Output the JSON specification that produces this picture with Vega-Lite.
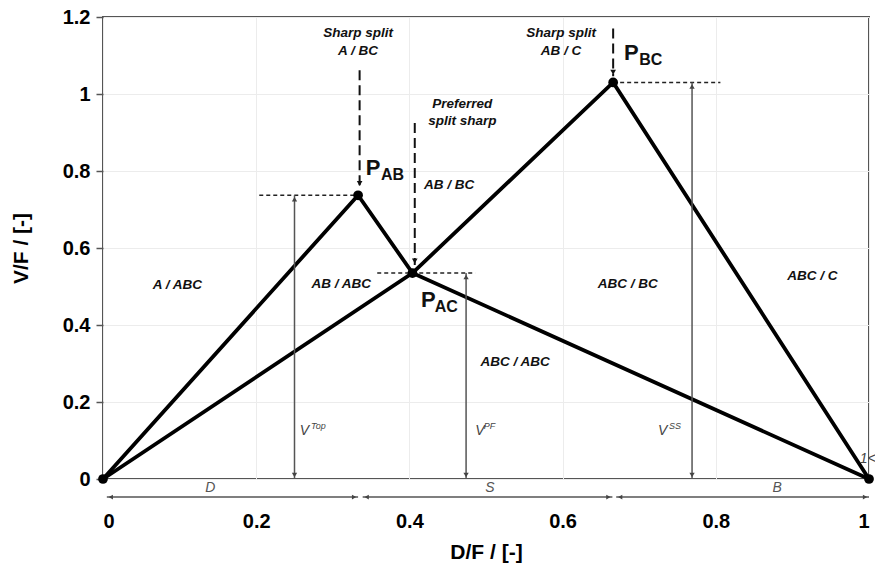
{
  "$schema": "https://vega.github.io/schema/vega-lite/v6.json",
  "width": 766,
  "height": 462,
  "autosize": "none",
  "padding": {"left": 103, "top": 17, "right": 6, "bottom": 88},
  "background": "white",
  "config": {
    "view": {"stroke": "#555", "strokeWidth": 2},
    "font": "Liberation Sans",
    "axis": {
      "domain": false,
      "grid": true,
      "gridColor": "#ececec",
      "gridWidth": 1,
      "labelFont": "Liberation Sans",
      "labelFontWeight": "bold",
      "labelFontSize": 20,
      "labelColor": "#000",
      "titleFont": "Liberation Sans",
      "titleFontWeight": "bold",
      "titleFontSize": 21,
      "titleColor": "#000"
    }
  },
  "datasets": {
    "paths": [
      {"path": "upper", "s": 1, "x": 0, "y": 0},
      {"path": "upper", "s": 2, "x": 0.333, "y": 0.737},
      {"path": "upper", "s": 3, "x": 0.404, "y": 0.535},
      {"path": "upper", "s": 4, "x": 1, "y": 0},
      {"path": "lower", "s": 1, "x": 0, "y": 0},
      {"path": "lower", "s": 2, "x": 0.404, "y": 0.535},
      {"path": "lower", "s": 3, "x": 0.666, "y": 1.03},
      {"path": "lower", "s": 4, "x": 1, "y": 0}
    ],
    "vertices": [
      {"x": 0, "y": 0},
      {"x": 0.333, "y": 0.737},
      {"x": 0.404, "y": 0.535},
      {"x": 0.666, "y": 1.03},
      {"x": 1, "y": 0}
    ],
    "levels": [
      {"x": 0.204, "x2": 0.333, "y": 0.737},
      {"x": 0.358, "x2": 0.486, "y": 0.535},
      {"x": 0.666, "x2": 0.806, "y": 1.03}
    ],
    "vArrows": [
      {"name": "Top", "x": 0.25, "y": 0.737},
      {"name": "PF", "x": 0.474, "y": 0.535},
      {"name": "SS", "x": 0.769, "y": 1.03}
    ],
    "splits": [
      {"x": 0.335, "top": 1.062, "tip": 0.757},
      {"x": 0.407, "top": 0.925, "tip": 0.556},
      {"x": 0.666, "top": 1.17, "tip": 1.046}
    ],
    "products": [
      {"name": "D", "from": 0.005, "to": 0.333, "mid": 0.14},
      {"name": "S", "from": 0.339, "to": 0.665, "mid": 0.505},
      {"name": "B", "from": 0.67, "to": 1.0, "mid": 0.88}
    ],
    "regionText": [
      {"t": "A / ABC", "x": 0.097, "y": 0.504},
      {"t": "AB / ABC", "x": 0.311, "y": 0.506},
      {"t": "AB / BC", "x": 0.452, "y": 0.764},
      {"t": "ABC / BC", "x": 0.685, "y": 0.506},
      {"t": "ABC / C", "x": 0.926, "y": 0.527},
      {"t": "ABC / ABC", "x": 0.538, "y": 0.304},
      {"t": "Sharp split", "x": 0.333, "y": 1.158},
      {"t": "A / BC", "x": 0.333, "y": 1.112},
      {"t": "Sharp split", "x": 0.598, "y": 1.158},
      {"t": "AB / C", "x": 0.598, "y": 1.112},
      {"t": "Preferred", "x": 0.469, "y": 0.974},
      {"t": "split sharp", "x": 0.469, "y": 0.93}
    ],
    "pText": [
      {"t": "P", "x": 0.343, "y": 0.79},
      {"t": "P", "x": 0.415, "y": 0.447},
      {"t": "P", "x": 0.68, "y": 1.088}
    ],
    "pSub": [
      {"t": "AB", "x": 0.363, "y": 0.777},
      {"t": "AC", "x": 0.433, "y": 0.434},
      {"t": "BC", "x": 0.7, "y": 1.075}
    ],
    "vText": [
      {"t": "V", "x": 0.257, "y": 0.114},
      {"t": "V", "x": 0.486, "y": 0.114},
      {"t": "V", "x": 0.7245, "y": 0.114},
      {"t": "1<", "x": 0.988, "y": 0.042}
    ],
    "vSup": [
      {"t": "Top", "x": 0.2715, "y": 0.13},
      {"t": "PF", "x": 0.497, "y": 0.13},
      {"t": "SS", "x": 0.739, "y": 0.13}
    ]
  },
  "layer": [
    {
      "data": {"name": "paths"},
      "mark": {"type": "line", "color": "#000", "strokeWidth": 3.8},
      "encoding": {
        "x": {
          "field": "x", "type": "quantitative",
          "scale": {"domain": [0, 1], "nice": false, "zero": false},
          "axis": {
            "title": "D/F / [-]",
            "values": [0, 0.2, 0.4, 0.6, 0.8, 1],
            "format": "~g",
            "ticks": false,
            "tickSize": 0,
            "labelPadding": 32,
            "titlePadding": 10
          }
        },
        "y": {
          "field": "y", "type": "quantitative",
          "scale": {"domain": [0, 1.2], "nice": false, "zero": false},
          "axis": {
            "title": "V/F / [-]",
            "values": [0, 0.2, 0.4, 0.6, 0.8, 1, 1.2],
            "format": "~g",
            "ticks": true,
            "tickSize": 7,
            "tickColor": "#555",
            "tickWidth": 1.5,
            "labelPadding": 6,
            "titlePadding": 31
          }
        },
        "detail": {"field": "path"},
        "order": {"field": "s"}
      }
    },
    {
      "data": {"name": "levels"},
      "mark": {"type": "rule", "color": "#222", "strokeWidth": 1.5, "strokeDash": [4, 3]},
      "encoding": {
        "x": {"field": "x", "type": "quantitative"},
        "x2": {"field": "x2"},
        "y": {"field": "y", "type": "quantitative"}
      }
    },
    {
      "data": {"name": "vArrows"},
      "mark": {"type": "rule", "color": "#555", "strokeWidth": 1.5},
      "encoding": {
        "x": {"field": "x", "type": "quantitative"},
        "y": {"field": "y", "type": "quantitative"},
        "y2": {"datum": 0}
      }
    },
    {
      "data": {"name": "vArrows"},
      "mark": {"type": "point", "shape": "triangle-up", "filled": true, "color": "#444", "size": 28, "opacity": 1, "yOffset": 4},
      "encoding": {
        "x": {"field": "x", "type": "quantitative"},
        "y": {"field": "y", "type": "quantitative"}
      }
    },
    {
      "data": {"name": "vArrows"},
      "mark": {"type": "point", "shape": "triangle-down", "filled": true, "color": "#444", "size": 28, "opacity": 1, "yOffset": -4},
      "encoding": {
        "x": {"field": "x", "type": "quantitative"},
        "y": {"datum": 0, "type": "quantitative"}
      }
    },
    {
      "data": {"name": "splits"},
      "mark": {"type": "rule", "color": "#111", "strokeWidth": 2, "strokeDash": [10, 5]},
      "encoding": {
        "x": {"field": "x", "type": "quantitative"},
        "y": {"field": "top", "type": "quantitative"},
        "y2": {"field": "tip"}
      }
    },
    {
      "data": {"name": "splits"},
      "mark": {"type": "point", "shape": "triangle-down", "filled": true, "color": "#111", "size": 32, "opacity": 1, "yOffset": -4},
      "encoding": {
        "x": {"field": "x", "type": "quantitative"},
        "y": {"field": "tip", "type": "quantitative"}
      }
    },
    {
      "data": {"name": "products"},
      "mark": {"type": "rule", "color": "#555", "strokeWidth": 1.5},
      "encoding": {
        "x": {"field": "from", "type": "quantitative"},
        "x2": {"field": "to"},
        "y": {"datum": -0.047, "type": "quantitative"}
      }
    },
    {
      "data": {"name": "products"},
      "mark": {"type": "point", "shape": "triangle-left", "filled": true, "color": "#444", "size": 24, "opacity": 1, "xOffset": 4},
      "encoding": {
        "x": {"field": "from", "type": "quantitative"},
        "y": {"datum": -0.047, "type": "quantitative"}
      }
    },
    {
      "data": {"name": "products"},
      "mark": {"type": "point", "shape": "triangle-right", "filled": true, "color": "#444", "size": 24, "opacity": 1, "xOffset": -4},
      "encoding": {
        "x": {"field": "to", "type": "quantitative"},
        "y": {"datum": -0.047, "type": "quantitative"}
      }
    },
    {
      "data": {"name": "products"},
      "mark": {"type": "text", "font": "Liberation Sans", "fontStyle": "italic", "fontSize": 14, "color": "#555", "align": "center", "baseline": "middle"},
      "encoding": {
        "x": {"field": "mid", "type": "quantitative"},
        "y": {"datum": -0.023, "type": "quantitative"},
        "text": {"field": "name"}
      }
    },
    {
      "data": {"name": "vertices"},
      "mark": {"type": "point", "shape": "circle", "filled": true, "color": "#000", "size": 95, "opacity": 1},
      "encoding": {
        "x": {"field": "x", "type": "quantitative"},
        "y": {"field": "y", "type": "quantitative"}
      }
    },
    {
      "data": {"name": "regionText"},
      "mark": {"type": "text", "font": "Liberation Sans", "fontStyle": "italic", "fontWeight": "bold", "fontSize": 13.5, "color": "#111", "align": "center", "baseline": "middle"},
      "encoding": {
        "x": {"field": "x", "type": "quantitative"},
        "y": {"field": "y", "type": "quantitative"},
        "text": {"field": "t"}
      }
    },
    {
      "data": {"name": "pText"},
      "mark": {"type": "text", "font": "Liberation Sans", "fontWeight": "bold", "fontSize": 22, "color": "#111", "align": "left", "baseline": "alphabetic"},
      "encoding": {
        "x": {"field": "x", "type": "quantitative"},
        "y": {"field": "y", "type": "quantitative"},
        "text": {"field": "t"}
      }
    },
    {
      "data": {"name": "pSub"},
      "mark": {"type": "text", "font": "Liberation Sans", "fontWeight": "bold", "fontSize": 16, "color": "#111", "align": "left", "baseline": "alphabetic"},
      "encoding": {
        "x": {"field": "x", "type": "quantitative"},
        "y": {"field": "y", "type": "quantitative"},
        "text": {"field": "t"}
      }
    },
    {
      "data": {"name": "vText"},
      "mark": {"type": "text", "font": "Liberation Sans", "fontStyle": "italic", "fontSize": 14, "color": "#444", "align": "left", "baseline": "alphabetic"},
      "encoding": {
        "x": {"field": "x", "type": "quantitative"},
        "y": {"field": "y", "type": "quantitative"},
        "text": {"field": "t"}
      }
    },
    {
      "data": {"name": "vSup"},
      "mark": {"type": "text", "font": "Liberation Sans", "fontStyle": "italic", "fontSize": 9, "color": "#444", "align": "left", "baseline": "alphabetic"},
      "encoding": {
        "x": {"field": "x", "type": "quantitative"},
        "y": {"field": "y", "type": "quantitative"},
        "text": {"field": "t"}
      }
    }
  ]
}
